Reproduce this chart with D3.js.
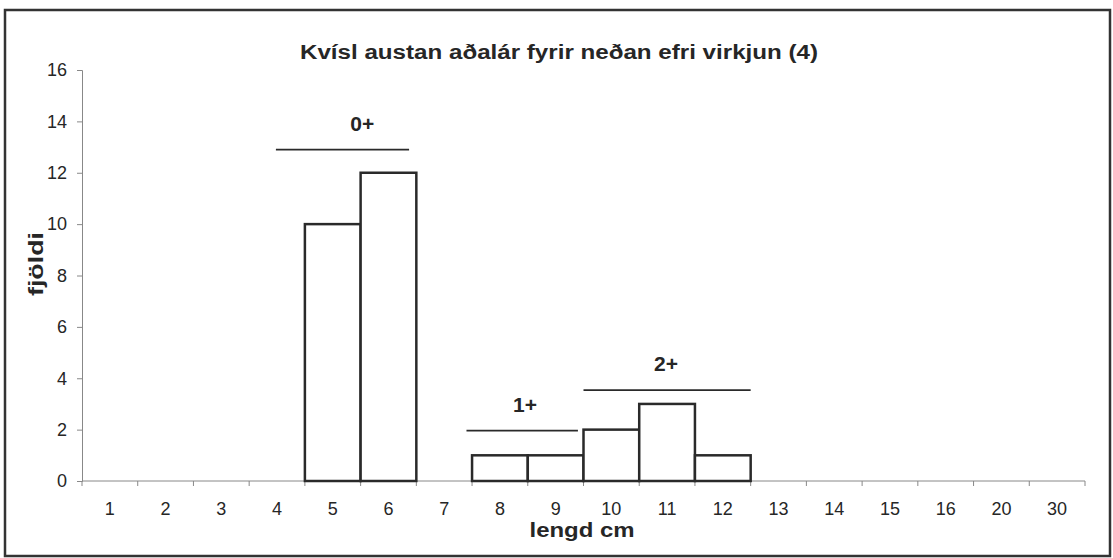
<!DOCTYPE html>
<html>
<head>
<meta charset="utf-8">
<script src="https://cdn.jsdelivr.net/npm/d3@7/dist/d3.min.js"></script>
<style>
  body { margin: 0; background: #fff; }
  text { font-family: "Liberation Sans", Arial, sans-serif; fill: #262626; }
</style>
</head>
<body>
<div id="chart"></div>
<script>
//chart values
var categories = ["1", "2", "3", "4", "5", "6", "7", "8", "9", "10", "11", "12", "13", "14", "15", "16", "20", "30"];
var counts = [0, 0, 0, 0, 10, 12, 0, 1, 1, 2, 3, 1, 0, 0, 0, 0, 0, 0];
var yTicks = [0, 2, 4, 6, 8, 10, 12, 14, 16];

//age groups: label, line start/end and label centre in band units, level on the y scale
var groupLabels = ["0+", "1+", "2+"];
var groupStart = [3.48, 6.9, 9.0];
var groupEnd = [5.87, 8.9, 12.0];
var groupLabelAt = [5.03, 7.95, 10.48];
var groupLevel = [12.9, 1.96, 3.54];

var titleText = "Kvísl austan aðalár fyrir neðan efri virkjun (4)";

//SVG size
var svgWidth = 1113;
var svgHeight = 558;

var margin = { top: 70, right: 28, bottom: 77, left: 82 };
var width = svgWidth - margin.left - margin.right;
var height = svgHeight - margin.top - margin.bottom;

var svg = d3.select("#chart")
  .append("svg")
  .attr("width", svgWidth)
  .attr("height", svgHeight);

//outer frame
svg.append("rect")
  .attr("x", 5)
  .attr("y", 10)
  .attr("width", 1105)
  .attr("height", 546)
  .attr("fill", "none")
  .attr("stroke", "#333")
  .attr("stroke-width", 2.5);

var chartGroup = svg.append("g")
  .attr("transform", `translate(${margin.left}, ${margin.top})`);

//scales
var xScale = d3.scaleBand()
  .domain(categories)
  .range([0, width])
  .padding(0);

var yScale = d3.scaleLinear()
  .domain([0, 16])
  .range([height, 0]);

//position in band units -> pixels
var bandPos = d3.scaleLinear()
  .domain([0, categories.length])
  .range([0, width]);

//y axis
var leftAxis = d3.axisLeft(yScale)
  .tickValues(yTicks)
  .tickSize(5)
  .tickPadding(10);

var yAxis = chartGroup.append("g")
  .call(leftAxis);
yAxis.selectAll("path, line").attr("stroke", "#888");
yAxis.selectAll("text")
  .attr("font-size", 18)
  .style("font-family", "Liberation Sans, Arial, sans-serif")
  .attr("fill", "#262626");

//x axis: ticks at band boundaries
var xAxisG = chartGroup.append("g")
  .attr("transform", `translate(0, ${height})`);

xAxisG.append("line")
  .attr("x1", 0)
  .attr("x2", width)
  .attr("stroke", "#888");

xAxisG.selectAll("line.tick")
  .data(d3.range(categories.length + 1))
  .enter()
  .append("line")
  .attr("class", "tick")
  .attr("x1", d => bandPos(d))
  .attr("x2", d => bandPos(d))
  .attr("y1", 0)
  .attr("y2", 5)
  .attr("stroke", "#888");

xAxisG.selectAll("text")
  .data(categories)
  .enter()
  .append("text")
  .attr("x", d => xScale(d) + xScale.bandwidth() / 2)
  .attr("y", 34)
  .attr("text-anchor", "middle")
  .attr("font-size", 18)
  .text(d => d);

//bars
chartGroup.selectAll("rect.bar")
  .data(counts.map((c, i) => ({ cat: categories[i], n: c })).filter(d => d.n > 0))
  .enter()
  .append("rect")
  .attr("class", "bar")
  .attr("x", d => xScale(d.cat))
  .attr("y", d => yScale(d.n))
  .attr("width", xScale.bandwidth())
  .attr("height", d => height - yScale(d.n))
  .attr("fill", "#fff")
  .attr("stroke", "#2a2a2a")
  .attr("stroke-width", 2.5);

//age group lines and labels
groupLabels.forEach(function(label, i) {
  var x1 = bandPos(groupStart[i]);
  var x2 = bandPos(groupEnd[i]);
  var y = yScale(groupLevel[i]);
  chartGroup.append("line")
    .attr("x1", x1)
    .attr("x2", x2)
    .attr("y1", y)
    .attr("y2", y)
    .attr("stroke", "#2a2a2a")
    .attr("stroke-width", 1.8);
  chartGroup.append("text")
    .attr("x", bandPos(groupLabelAt[i]))
    .attr("y", y - 19)
    .attr("text-anchor", "middle")
    .attr("font-size", 21)
    .attr("font-weight", "bold")
    .text(label);
});

//title
svg.append("text")
  .attr("x", 559)
  .attr("y", 59)
  .attr("text-anchor", "middle")
  .attr("font-size", 20)
  .attr("font-weight", "bold")
  .attr("textLength", 518)
  .attr("lengthAdjust", "spacingAndGlyphs")
  .text(titleText);

//axis titles
svg.append("text")
  .attr("transform", "rotate(-90)")
  .attr("x", -264)
  .attr("y", 43)
  .attr("text-anchor", "middle")
  .attr("font-size", 20)
  .attr("font-weight", "bold")
  .attr("textLength", 64)
  .attr("lengthAdjust", "spacingAndGlyphs")
  .text("fjöldi");

svg.append("text")
  .attr("x", 582)
  .attr("y", 537)
  .attr("text-anchor", "middle")
  .attr("font-size", 20)
  .attr("font-weight", "bold")
  .attr("textLength", 105)
  .attr("lengthAdjust", "spacingAndGlyphs")
  .text("lengd cm");
</script>
</body>
</html>
